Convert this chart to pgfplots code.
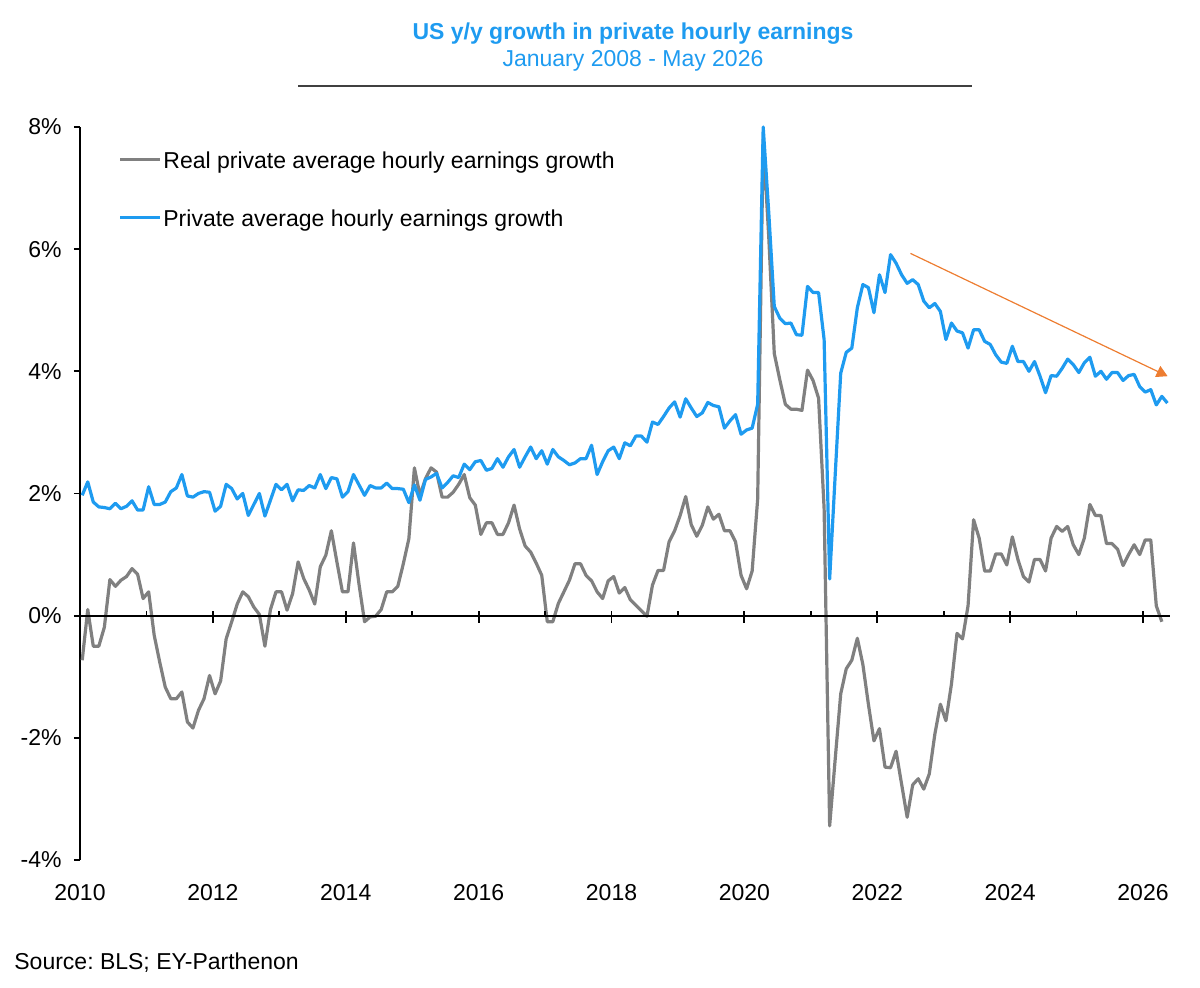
\documentclass[border=0pt]{standalone}
\usepackage{fontspec}
\setmainfont{Liberation Sans}
\usepackage{pgfplots}
\pgfplotsset{compat=1.18}
\usepackage{pgfplotstable}
\usetikzlibrary{arrows.meta}
\definecolor{ablue}{RGB}{30,155,240}
\definecolor{agray}{RGB}{128,128,128}
\definecolor{aorange}{RGB}{237,125,49}
\definecolor{rulegray}{RGB}{64,64,64}

\pgfplotstableread{
m v
0 1.97
1 2.19
2 1.86
3 1.78
4 1.77
5 1.75
6 1.84
7 1.75
8 1.79
9 1.88
10 1.73
11 1.73
12 2.11
13 1.82
14 1.82
15 1.86
16 2.03
17 2.09
18 2.31
19 1.96
20 1.94
21 2.00
22 2.03
23 2.02
24 1.71
25 1.79
26 2.15
27 2.08
28 1.91
29 2.00
30 1.64
31 1.82
32 2.00
33 1.63
34 1.89
35 2.15
36 2.06
37 2.15
38 1.88
39 2.06
40 2.05
41 2.13
42 2.09
43 2.31
44 2.08
45 2.26
46 2.24
47 1.94
48 2.03
49 2.31
50 2.14
51 1.97
52 2.13
53 2.09
54 2.09
55 2.17
56 2.08
57 2.08
58 2.07
59 1.85
60 2.14
61 1.89
62 2.23
63 2.27
64 2.33
65 2.09
66 2.18
67 2.29
68 2.26
69 2.48
70 2.39
71 2.52
72 2.54
73 2.38
74 2.41
75 2.57
76 2.43
77 2.60
78 2.72
79 2.43
80 2.60
81 2.76
82 2.57
83 2.70
84 2.48
85 2.72
86 2.60
87 2.54
88 2.47
89 2.50
90 2.57
91 2.57
92 2.79
93 2.31
94 2.52
95 2.70
96 2.76
97 2.57
98 2.83
99 2.78
100 2.94
101 2.94
102 2.84
103 3.17
104 3.13
105 3.26
106 3.40
107 3.50
108 3.25
109 3.55
110 3.40
111 3.26
112 3.32
113 3.49
114 3.44
115 3.42
116 3.07
117 3.19
118 3.29
119 2.97
120 3.04
121 3.07
122 3.46
123 8.00
124 6.60
125 5.06
126 4.87
127 4.78
128 4.79
129 4.60
130 4.59
131 5.39
132 5.29
133 5.29
134 4.52
135 0.60
136 2.30
137 3.97
138 4.31
139 4.38
140 5.04
141 5.42
142 5.37
143 4.96
144 5.58
145 5.29
146 5.91
147 5.77
148 5.58
149 5.44
150 5.50
151 5.42
152 5.15
153 5.04
154 5.11
155 4.98
156 4.52
157 4.79
158 4.66
159 4.63
160 4.38
161 4.68
162 4.68
163 4.49
164 4.44
165 4.27
166 4.15
167 4.13
168 4.41
169 4.16
170 4.16
171 4.00
172 4.16
173 3.92
174 3.65
175 3.93
176 3.92
177 4.05
178 4.20
179 4.11
180 3.98
181 4.14
182 4.23
183 3.92
184 4.00
185 3.87
186 3.98
187 3.98
188 3.85
189 3.93
190 3.95
191 3.75
192 3.66
193 3.70
194 3.45
195 3.59
196 3.48
}\bluedata

\pgfplotstableread{
m v
0 -0.73
1 0.10
2 -0.50
3 -0.50
4 -0.19
5 0.59
6 0.48
7 0.58
8 0.64
9 0.77
10 0.68
11 0.28
12 0.39
13 -0.32
14 -0.76
15 -1.17
16 -1.36
17 -1.36
18 -1.25
19 -1.74
20 -1.84
21 -1.55
22 -1.36
23 -0.98
24 -1.28
25 -1.07
26 -0.38
27 -0.10
28 0.19
29 0.39
30 0.31
31 0.14
32 0.02
33 -0.50
34 0.10
35 0.39
36 0.39
37 0.09
38 0.36
39 0.88
40 0.61
41 0.42
42 0.19
43 0.80
44 0.99
45 1.39
46 0.88
47 0.39
48 0.39
49 1.19
50 0.51
51 -0.10
52 -0.02
53 -0.01
54 0.10
55 0.39
56 0.39
57 0.48
58 0.85
59 1.26
60 2.42
61 1.97
62 2.24
63 2.42
64 2.35
65 1.94
66 1.94
67 2.02
68 2.15
69 2.31
70 1.93
71 1.81
72 1.33
73 1.52
74 1.52
75 1.33
76 1.33
77 1.52
78 1.81
79 1.42
80 1.14
81 1.04
82 0.86
83 0.66
84 -0.10
85 -0.10
86 0.20
87 0.39
88 0.58
89 0.85
90 0.85
91 0.66
92 0.57
93 0.39
94 0.28
95 0.57
96 0.64
97 0.37
98 0.46
99 0.26
100 0.17
101 0.08
102 -0.01
103 0.50
104 0.74
105 0.74
106 1.21
107 1.39
108 1.64
109 1.95
110 1.49
111 1.30
112 1.48
113 1.78
114 1.58
115 1.66
116 1.39
117 1.39
118 1.21
119 0.66
120 0.44
121 0.73
122 1.91
123 7.80
124 6.20
125 4.29
126 3.86
127 3.46
128 3.38
129 3.38
130 3.36
131 4.02
132 3.85
133 3.56
134 1.75
135 -3.44
136 -2.35
137 -1.28
138 -0.87
139 -0.73
140 -0.37
141 -0.80
142 -1.45
143 -2.05
144 -1.85
145 -2.48
146 -2.49
147 -2.22
148 -2.76
149 -3.30
150 -2.77
151 -2.67
152 -2.84
153 -2.59
154 -1.94
155 -1.45
156 -1.72
157 -1.12
158 -0.29
159 -0.38
160 0.16
161 1.57
162 1.27
163 0.73
164 0.73
165 1.01
166 1.01
167 0.83
168 1.29
169 0.92
170 0.64
171 0.55
172 0.92
173 0.92
174 0.73
175 1.27
176 1.46
177 1.38
178 1.46
179 1.16
180 1.00
181 1.27
182 1.82
183 1.64
184 1.64
185 1.18
186 1.18
187 1.09
188 0.82
189 1.00
190 1.16
191 1.00
192 1.24
193 1.24
194 0.16
195 -0.10
}\graydata

\begin{document}
\frenchspacing
\fontsize{11.5}{13.8}\selectfont
\begin{tikzpicture}
\useasboundingbox (-40pt,-64pt) rectangle (560pt,430pt);
\begin{axis}[
  at={(0,0)}, anchor=south west,
  scale only axis, width=544.8pt, height=366.5pt,
  xmin=2010, xmax=2026.4, ymin=-4, ymax=8,
  axis y line*=left, axis x line*=bottom,
  x axis line style={draw=none},
  y axis line style={line width=0.9pt, black},
  xtick={2010,2012,...,2026},
  major x tick style={draw=none},
  ytick={-4,-2,...,8},
  y tick style={line width=0.9pt, black},
  tick align=outside, major tick length=3pt,
  /pgf/number format/assume math mode=true,
  /pgf/number format/1000 sep={},
  yticklabel={\pgfmathprintnumber{\tick}\%},
  tick label style={font=\fontsize{11.5}{13.8}\selectfont, text=black},
  xticklabel style={inner sep=0pt, yshift=-9pt},
  yticklabel style={inner sep=0pt, xshift=-6pt},
  clip=false,
]
\addplot[agray, line width=1.6pt, line join=round] table[x expr=2010+(\thisrow{m}+0.4)/12, y=v]{\graydata};
\addplot[ablue, line width=1.6pt, line join=round] table[x expr=2010+(\thisrow{m}+0.4)/12, y=v]{\bluedata};
\draw[line width=0.9pt] (axis cs:2010,0) -- (axis cs:2026.4,0);
\pgfplotsinvokeforeach{2012,2014,2016,2018,2020,2022,2024,2026}{
  \draw[line width=0.9pt] ([yshift=-3.5pt]axis cs:#1,0) -- ([yshift=2.5pt]axis cs:#1,0);
}
\pgfplotsinvokeforeach{2011,2013,2015,2017,2019,2021,2023,2025}{
  \draw[line width=0.9pt] (axis cs:#1,0) -- ([yshift=2.5pt]axis cs:#1,0);
}
\draw[aorange, line width=0.6pt, -{Triangle[length=5.5pt,width=6pt]}] (axis cs:2022.5,5.93) -- (axis cs:2026.37,3.92);
\end{axis}
\node[font=\bfseries\fontsize{11.5}{13.8}\selectfont, text=ablue] at (276.5pt,413pt) {US y/y growth in private hourly earnings};
\node[text=ablue] at (276.5pt,399.5pt) {January 2008 - May 2026};
\draw[rulegray, line width=0.7pt] (109pt,387pt) -- (446pt,387pt);
\draw[agray, line width=1.5pt] (20pt,350pt) -- (40pt,350pt);
\node[anchor=west, inner sep=0pt] at (41.5pt,348.5pt) {Real private average hourly earnings growth};
\draw[ablue, line width=1.5pt] (20pt,321pt) -- (40pt,321pt);
\node[anchor=west, inner sep=0pt] at (41.5pt,319.5pt) {Private average hourly earnings growth};
\node[anchor=west, inner sep=0pt] at (-33pt,-51.5pt) {Source: BLS; EY-Parthenon};
\end{tikzpicture}
\end{document}
